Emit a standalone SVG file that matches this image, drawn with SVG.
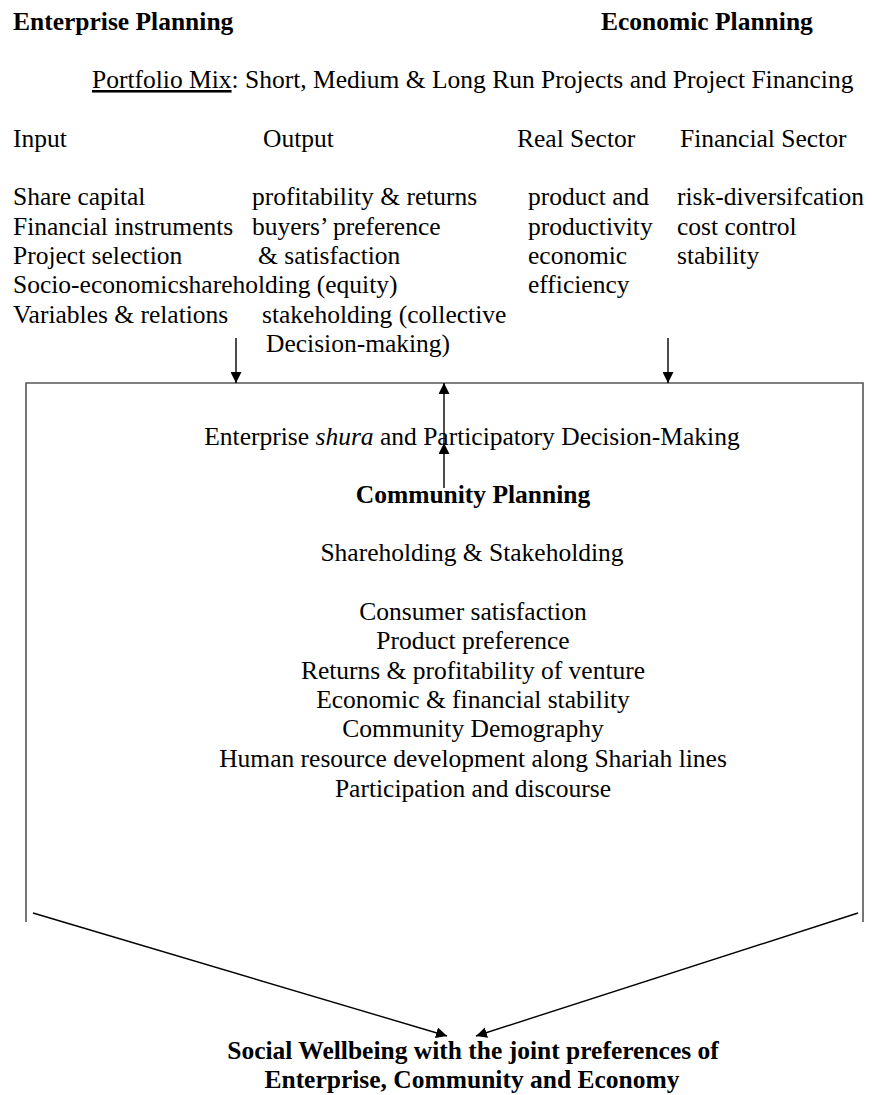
<svg xmlns="http://www.w3.org/2000/svg" width="872" height="1095" viewBox="0 0 872 1095">
<defs>
<style>
text{font-family:"Liberation Serif","Times New Roman",serif;font-size:25.5px;fill:#000}
.b{font-weight:bold}
.c{text-anchor:middle}
.box{fill:none;stroke:#555;stroke-width:1.6}
.ln{fill:none;stroke:#000;stroke-width:1.4}
</style>
<marker id="ah" viewBox="0 0 10 10" refX="10" refY="5" markerWidth="11" markerHeight="11" markerUnits="userSpaceOnUse" orient="auto">
<path d="M0,0 L10,5 L0,10 z" fill="#000"/>
</marker>
</defs>
<rect width="872" height="1095" fill="#fff"/>
<g id="enterprise-planning"><text class="b" x="13" y="30">Enterprise Planning</text></g>
<g id="economic-planning"><text class="b" x="601" y="30">Economic Planning</text></g>
<g id="portfolio"><text x="92" y="88"><tspan text-decoration="underline">Portfolio Mix</tspan>: Short, Medium &amp; Long Run Projects and Project Financing</text></g>
<g id="input">
<text x="13" y="147">Input</text>
<text x="13" y="205">Share capital</text>
<text x="13" y="234.5">Financial instruments</text>
<text x="13" y="264">Project selection</text>
<text x="13" y="293">Socio-economicshareholding (equity)</text>
<text x="13" y="322.5">Variables &amp; relations</text>
</g>
<g id="output">
<text x="263" y="147">Output</text>
<text x="252" y="205">profitability &amp; returns</text>
<text x="252" y="234.5">buyers’ preference</text>
<text x="258" y="264">&amp; satisfaction</text>
<text x="262" y="322.5">stakeholding (collective</text>
<text x="266" y="352">Decision-making)</text>
</g>
<g id="real-sector">
<text x="517" y="147">Real Sector</text>
<text x="528" y="205">product and</text>
<text x="528" y="234.5">productivity</text>
<text x="528" y="264">economic</text>
<text x="528" y="293">efficiency</text>
</g>
<g id="financial-sector">
<text x="680" y="147">Financial Sector</text>
<text x="677" y="205">risk-diversifcation</text>
<text x="677" y="234.5">cost control</text>
<text x="677" y="264">stability</text>
</g>
<g id="community-box">
<path class="box" d="M26,922 V383 H863 V922"/>
<text class="c" x="472" y="444.5">Enterprise <tspan font-style="italic">shura</tspan> and Participatory Decision-Making</text>
<text class="c b" x="473" y="503">Community Planning</text>
<text class="c" x="472" y="561">Shareholding &amp; Stakeholding</text>
<text class="c" x="473" y="620">Consumer satisfaction</text>
<text class="c" x="473" y="649">Product preference</text>
<text class="c" x="473" y="679">Returns &amp; profitability of venture</text>
<text class="c" x="473" y="708">Economic &amp; financial stability</text>
<text class="c" x="473" y="737">Community Demography</text>
<text class="c" x="473" y="767">Human resource development along Shariah lines</text>
<text class="c" x="473" y="797">Participation and discourse</text>
</g>
<g id="social-wellbeing">
<text class="c b" x="473" y="1059">Social Wellbeing with the joint preferences of</text>
<text class="c b" x="472" y="1088">Enterprise, Community and Economy</text>
</g>
<g id="connectors">
<line class="ln" x1="236" y1="338" x2="236" y2="383" marker-end="url(#ah)"/>
<line class="ln" x1="668" y1="338" x2="668" y2="383" marker-end="url(#ah)"/>
<line class="ln" x1="444" y1="488" x2="444" y2="443" marker-end="url(#ah)"/>
<line class="ln" x1="444" y1="443" x2="444" y2="383" marker-end="url(#ah)"/>
<line class="ln" x1="33" y1="913" x2="447" y2="1036" marker-end="url(#ah)"/>
<line class="ln" x1="858" y1="913" x2="476" y2="1036" marker-end="url(#ah)"/>
</g>
</svg>
